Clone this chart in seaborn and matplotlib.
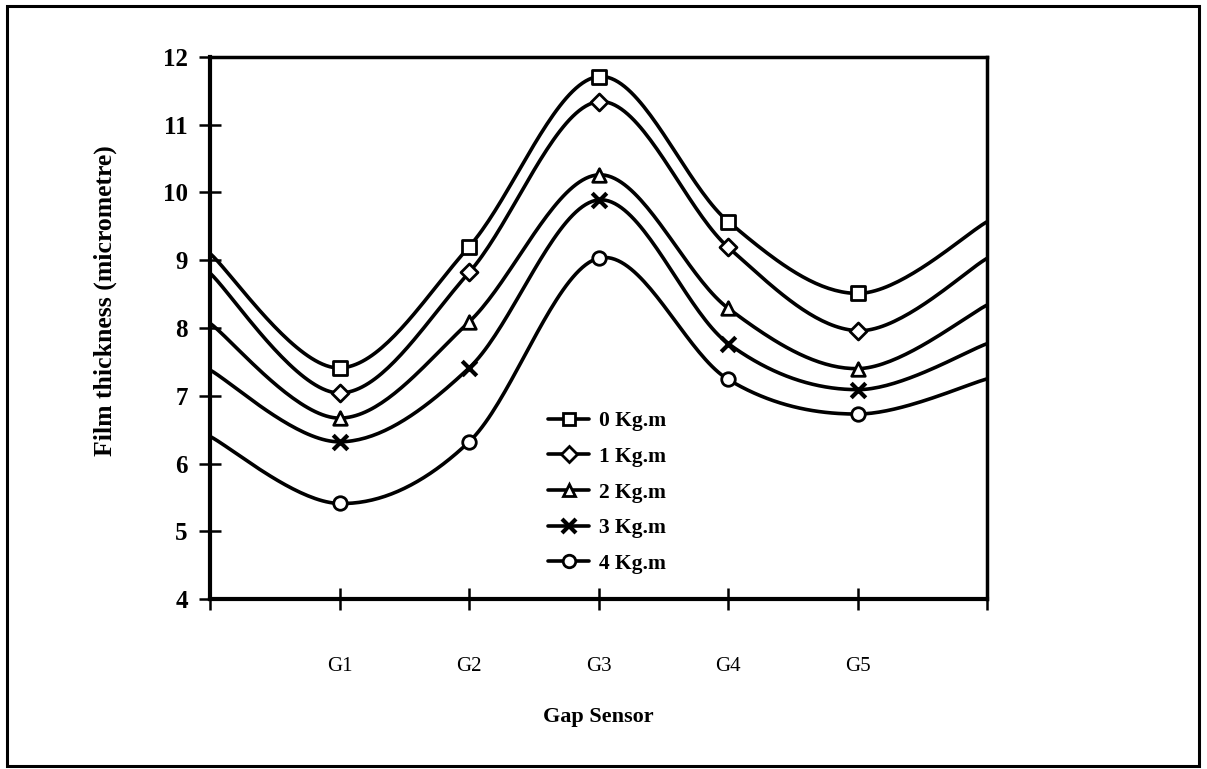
import numpy as np
import pandas as pd
import matplotlib
matplotlib.use("Agg")
import matplotlib.pyplot as plt
from matplotlib.lines import Line2D
from matplotlib.patches import Rectangle
import seaborn as sns

# ---- data ----
positions = [0, 1, 2, 3, 4, 5, 6]
sensor_labels = ["G1", "G2", "G3", "G4", "G5"]
series_names = ["0 Kg.m", "1 Kg.m", "2 Kg.m", "3 Kg.m", "4 Kg.m"]
s0 = [9.10, 7.41, 9.20, 11.71, 9.57, 8.51, 9.57]
s1 = [8.81, 7.04, 8.82, 11.34, 9.19, 7.96, 9.03]
s2 = [8.07, 6.67, 8.09, 10.26, 8.29, 7.40, 8.34]
s3 = [7.38, 6.32, 7.41, 9.89, 7.77, 7.09, 7.77]
s4 = [6.40, 5.41, 6.32, 9.03, 7.24, 6.73, 7.25]
series_values = [s0, s1, s2, s3, s4]
markers = ["s", "D", "^", "x", "o"]

sns.set_theme(style="white")
plt.rcParams["font.family"] = ["Liberation Serif", "DejaVu Serif"]
plt.rcParams["text.color"] = "black"
plt.rcParams["axes.labelcolor"] = "black"


def smooth(x, y, n=40):
    """Excel-like smoothed line (cubic Bezier with Catmull-Rom control points)."""
    x = np.asarray(x, float)
    y = np.asarray(y, float)
    P = np.column_stack([x, y])
    out = []
    for i in range(len(P) - 1):
        p0 = P[i - 1] if i > 0 else P[i]
        p1 = P[i]
        p2 = P[i + 1]
        p3 = P[i + 2] if i + 2 < len(P) else P[i + 1]
        c1 = p1 + (p2 - p0) / 6.0
        c2 = p2 - (p3 - p1) / 6.0
        t = np.linspace(0, 1, n, endpoint=(i == len(P) - 2))[:, None]
        b = ((1 - t) ** 3) * p1 + 3 * ((1 - t) ** 2) * t * c1 + 3 * (1 - t) * t ** 2 * c2 + t ** 3 * p2
        out.append(b)
    out = np.vstack(out)
    return out[:, 0], out[:, 1]


fig = plt.figure(figsize=(12.07, 7.69), dpi=100)
fig.patch.set_facecolor("white")
ax = fig.add_axes([0.174, 0.221, 0.644, 0.705])

# outer frame
fig.patches.append(Rectangle((0.0058, 0.004), 0.9876, 0.988, transform=fig.transFigure,
                             fill=False, edgecolor="black", linewidth=2.2))

lw = 2.6
handles = []
for name, vals, mk in zip(series_names, series_values, markers):
    xs, ys = smooth(positions, vals)
    df = pd.DataFrame({"x": xs, "y": ys})
    sns.lineplot(data=df, x="x", y="y", sort=False, estimator=None, color="black",
                 linewidth=lw, ax=ax, legend=False)
    dm = pd.DataFrame({"x": positions[1:6], "y": vals[1:6]})
    if mk == "x":
        sns.scatterplot(data=dm, x="x", y="y", marker="x", s=110, color="black",
                        linewidth=3, ax=ax, legend=False, zorder=5)
        h = Line2D([0], [0], color="black", lw=lw, marker="x", ms=10, mew=3)
    else:
        ms = 95 if mk != "D" else 75
        sns.scatterplot(data=dm, x="x", y="y", marker=mk, s=ms, facecolor="white",
                        edgecolor="black", linewidth=2, ax=ax, legend=False, zorder=5)
        h = Line2D([0], [0], color="black", lw=lw, marker=mk, ms=9 if mk != "D" else 8,
                   mfc="white", mec="black", mew=2)
    handles.append(h)

ax.set_xlim(0, 6)
ax.set_ylim(4, 12)
ax.set_xticks(positions)
ax.set_xticklabels([""] + sensor_labels + [""], fontsize=15)
ax.set_yticks(range(4, 13))
ax.set_yticklabels([str(v) for v in range(4, 13)], fontsize=18, fontweight="bold")
ax.tick_params(axis="x", bottom=True, direction="inout", length=16, width=1.8, pad=34,
               colors="black")
ax.tick_params(axis="y", left=True, direction="inout", length=16, width=1.8, pad=8,
               colors="black")

for side in ["left", "bottom"]:
    ax.spines[side].set_linewidth(3)
    ax.spines[side].set_color("black")
for side in ["top", "right"]:
    ax.spines[side].set_linewidth(2.5)
    ax.spines[side].set_color("black")

ax.set_xlabel("Gap Sensor", fontsize=16, fontweight="bold")
ax.xaxis.set_label_coords(0.5, -0.2)
ax.set_ylabel("Film thickness (micrometre)", fontsize=18.5, fontweight="bold")
ax.yaxis.set_label_coords(-0.12, 0.55)

leg = ax.legend(handles, series_names, loc="upper left", bbox_to_anchor=(0.41, 0.382),
                frameon=False, handlelength=1.9, labelspacing=0.72, handletextpad=0.45,
                prop={"family": "Liberation Serif", "size": 15.5, "weight": "bold"})

fig.savefig("out.png", dpi=100, facecolor="white")
